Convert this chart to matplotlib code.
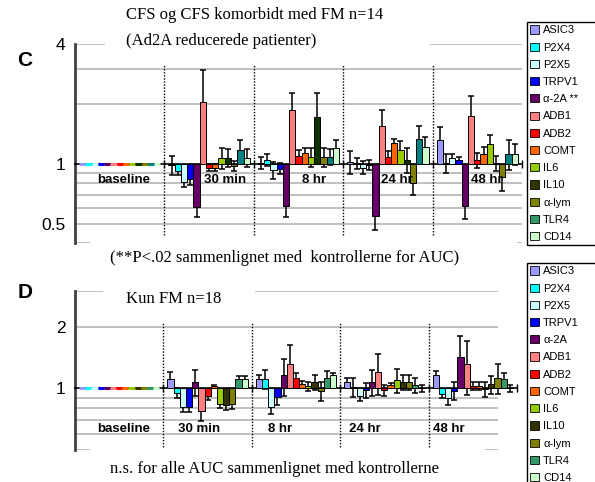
import matplotlib
matplotlib.use("Agg")
import matplotlib.pyplot as plt
from matplotlib.patches import Patch, Rectangle
from matplotlib.ticker import NullLocator
import numpy as np

# ---------------- data ----------------
series = ["ASIC3", "P2X4", "P2X5", "TRPV1", "α-2A", "ADB1", "ADB2", "COMT",
          "IL6", "IL10", "α-lym", "TLR4", "CD14"]
labels_c = ["ASIC3", "P2X4", "P2X5", "TRPV1", "α-2A **", "ADB1", "ADB2", "COMT",
            "IL6", "IL10", "α-lym", "TLR4", "CD14"]
labels_d = series
groups = ["baseline", "30 min", "8 hr", "24 hr", "48 hr"]

colors_c = ["#9999FF", "#00FFFF", "#CCFFFF", "#0000FF", "#660066", "#FF8080", "#FF0000",
            "#FF6600", "#99CC00", "#0F3300", "#808000", "#008080", "#CCFFCC"]
colors_d = ["#9999FF", "#00FFFF", "#CCFFFF", "#0000FF", "#660066", "#FF8080", "#FF0000",
            "#FF6600", "#99CC00", "#333300", "#808000", "#339966", "#CCFFCC"]

# Panel C (CFS og CFS komorbidt med FM, n=14)
c_baseline = [1, 1, 1, 1, 1, 1, 1, 1, 1, 1, 1, 1, 1]
c_30min = [0.987, 0.915, 0.812, 0.838, 0.604, 2.055, 0.958, 0.958, 1.072, 1.072, 0.977, 1.18, 1.072]
c_8hr = [1.012, 1.047, 0.93, 0.947, 0.613, 1.873, 1.097, 1.135, 1.084, 1.72, 1.084, 1.084, 1.194]
c_24hr = [1.023, 1.006, 0.958, 0.99, 0.546, 1.551, 1.088, 1.275, 1.18, 1.047, 0.797, 1.34, 1.217]
c_48hr = [1.31, 1.008, 1.072, 1.047, 0.613, 1.74, 1.047, 1.122, 1.26, 1.01, 0.854, 1.122, 1.122]

c_err_baseline = [0, 0, 0, 0, 0, 0, 0, 0, 0, 0, 0, 0, 0]
c_err_30min = [0.11, 0.038, 0.05, 0.056, 0.066, 0.9, 0.035, 0.035, 0.126, 0.11, 0.055, 0.13, 0.11]
c_err_8hr = [0.072, 0.075, 0.09, 0.06, 0.075, 0.4, 0.08, 0.065, 0.115, 0.55, 0.115, 0.1, 0.12]
c_err_24hr = [0.135, 0.066, 0.07, 0.057, 0.083, 0.31, 0.07, 0.065, 0.12, 0.15, 0.1, 0.2, 0.15]
c_err_48hr = [0.22, 0.11, 0.05, 0.04, 0.086, 0.45, 0.09, 0.09, 0.13, 0.09, 0.12, 0.19, 0.14]

# Panel D (Kun FM, n=18)
d_baseline = [1, 1, 1, 1, 1, 1, 1, 1, 1, 1, 1, 1, 1]
d_30min = [1.108, 0.95, 0.808, 0.808, 1.072, 0.776, 0.922, 1.022, 0.835, 0.826, 0.841, 1.108, 1.108]
d_8hr = [1.108, 1.108, 0.808, 0.906, 1.158, 1.321, 1.129, 1.045, 1.026, 1.072, 0.972, 1.129, 1.158]
d_24hr = [1.072, 1.019, 0.922, 0.978, 1.072, 1.197, 0.98, 1.041, 1.1, 1.072, 1.072, 1.041, 1.0]
d_48hr = [1.158, 0.936, 0.896, 0.975, 1.427, 1.321, 1.026, 1.026, 0.99, 1.045, 1.129, 1.108, 1.0]

d_err_baseline = [0, 0, 0, 0, 0, 0, 0, 0, 0, 0, 0, 0, 0]
d_err_30min = [0.09, 0.057, 0.04, 0.04, 0.156, 0.086, 0.04, 0.02, 0.03, 0.045, 0.05, 0.046, 0.046]
d_err_8hr = [0.05, 0.12, 0.06, 0.08, 0.24, 0.31, 0.063, 0.04, 0.05, 0.086, 0.1, 0.09, 0.03]
d_err_24hr = [0.057, 0.11, 0.05, 0.08, 0.156, 0.27, 0.06, 0.02, 0.15, 0.086, 0.086, 0.088, 0.035]
d_err_48hr = [0.06, 0.04, 0.066, 0.1, 0.38, 0.39, 0.046, 0.046, 0.08, 0.11, 0.19, 0.08, 0.04]

c_ticks = [0.5, 1, 4]
c_ticklabels = ["0.5", "1", "4"]
c_grid = [0.4, 0.5, 0.6, 0.7, 0.8, 0.9, 2, 3, 4]
d_ticks = [1, 2]
d_ticklabels = ["1", "2"]
d_grid = [0.5, 0.6, 0.7, 0.8, 0.9, 2, 3]

# ---------------- style ----------------
SANS = ["Liberation Sans", "DejaVu Sans"]
SERIF = ["Liberation Serif", "DejaVu Serif"]
plt.rcParams["font.family"] = SANS

W, H = 595, 482
fig = plt.figure(figsize=(W / 100, H / 100), dpi=100)


def fx(px):
    return px / W


def fy(py):
    return 1 - py / H


def cover(ax, x0, x1, y0, y1):
    ax.add_patch(Rectangle((x0, y0), x1 - x0, y1 - y0, transform=ax.transAxes,
                           facecolor="white", edgecolor="none", zorder=1.5, clip_on=False))


def draw_panel(ax, vals, errs, colors, ylim, ticks, ticklabels, grid, label_y, label_shift,
               vline_span):
    ax.set_yscale("log")
    ax.set_ylim(*ylim)
    ax.set_xlim(-0.5, len(groups) - 0.5)
    n = len(series)
    width = 0.07
    x = np.arange(len(groups))
    for i in range(n):
        v = np.array([g[i] for g in vals], dtype=float)
        e = np.array([g[i] for g in errs], dtype=float)
        xs = x + (i - (n - 1) / 2) * width
        flat = (v == 1) & (e == 0)
        edge = [colors[i] if f else "black" for f in flat]
        lw = [2.2 if f else 0.7 for f in flat]
        ax.bar(xs, v - 1, bottom=1, width=width, color=colors[i], edgecolor=edge,
               linewidth=lw, zorder=3)
        m = e > 0
        ax.errorbar(xs[m], v[m], yerr=e[m], fmt="none", ecolor="black", elinewidth=1.1,
                    capsize=2.4, capthick=1.1, zorder=2.6)
    for g in grid:
        ax.axhline(g, color="#C0C0C0", lw=1.4, zorder=0.5)
    for b in np.arange(len(groups) - 1) + 0.5:
        ax.axvline(b, ymin=vline_span[0], ymax=vline_span[1], color="black", lw=1.0,
                   ls=(0, (1, 1.2)), zorder=1.6)
    ax.set_yticks(ticks)
    ax.set_yticklabels(ticklabels, fontsize=12.5)
    ax.yaxis.set_minor_locator(NullLocator())
    ax.tick_params(axis="y", length=0, pad=7)
    ax.set_xticks(np.arange(len(groups)) + 0.5)
    ax.set_xticklabels([])
    ax.tick_params(axis="x", direction="inout", length=6, width=1.0, color="black")
    ax.spines["bottom"].set_position(("data", 1))
    ax.spines["bottom"].set_linewidth(1.2)
    ax.spines["bottom"].set_zorder(2.5)
    ax.spines["top"].set_visible(False)
    ax.spines["right"].set_visible(False)
    ax.spines["left"].set_color("#404040")
    ax.spines["left"].set_linewidth(2.0)
    for k, name in enumerate(groups):
        ax.text(k + label_shift[k], label_y, name, ha="center", va="center", fontsize=9.5,
                fontweight="bold", zorder=4)
    ax.set_facecolor("none")


# ---------------- panel C ----------------
axc = fig.add_axes([fx(75), fy(243), fx(522 - 75), (243 - 44) / H])
draw_panel(axc,
           [c_baseline, c_30min, c_8hr, c_24hr, c_48hr],
           [c_err_baseline, c_err_30min, c_err_8hr, c_err_24hr, c_err_48hr],
           colors_c, (0.4, 4), c_ticks, c_ticklabels, c_grid, 0.83,
           [0.05, 0.18, 0.17, 0.10, 0.11], (0.04, 0.895))
cover(axc, 0.067, 0.794, 0.985, 1.08)
cover(axc, 0.034, 0.989, -0.08, 0.012)

# ---------------- panel D ----------------
axd = fig.add_axes([fx(75), fy(450), fx(517 - 75), (450 - 290.7) / H])
draw_panel(axd,
           [d_baseline, d_30min, d_8hr, d_24hr, d_48hr],
           [d_err_baseline, d_err_30min, d_err_8hr, d_err_24hr, d_err_48hr],
           colors_d, (0.5, 3), d_ticks, d_ticklabels, d_grid, 0.635,
           [0.05, -0.10, -0.18, -0.22, -0.27], (0.02, 0.805))
cover(axd, 0.063, 0.407, 0.985, 1.08)
cover(axd, 0.034, 0.928, -0.08, 0.012)
cover(axd, 0.957, 1.03, -0.02, 1.02)

# ---------------- texts ----------------
fig.text(fx(25), fy(61), "C", fontsize=15, fontweight="bold", ha="center", va="center")
fig.text(fx(25), fy(293), "D", fontsize=15, fontweight="bold", ha="center", va="center")
fig.text(fx(126), fy(15), "CFS og CFS komorbidt med FM n=14", family=SERIF, fontsize=12,
         ha="left", va="center")
fig.text(fx(126), fy(41), "(Ad2A reducerede patienter)", family=SERIF, fontsize=12,
         ha="left", va="center")
fig.text(fx(110), fy(258), "(**P<.02 sammenlignet med  kontrollerne for AUC)", family=SERIF,
         fontsize=12, ha="left", va="center")
fig.text(fx(126), fy(299), "Kun FM n=18", family=SERIF, fontsize=12, ha="left", va="center")
fig.text(fx(110), fy(469), "n.s. for alle AUC sammenlignet med kontrollerne", family=SERIF,
         fontsize=12, ha="left", va="center")

# ---------------- legends ----------------
for labels, top in ((labels_c, 22), (labels_d, 263)):
    handles = [Patch(facecolor=c, edgecolor="black", linewidth=0.6) for c in colors_d]
    leg = fig.legend(handles, labels, loc="upper left",
                     bbox_to_anchor=(fx(527), fy(top), fx(90), 0.0), mode="expand",
                     frameon=True, fancybox=False, edgecolor="black", framealpha=1,
                     fontsize=8, handlelength=0.75, handleheight=0.75, handletextpad=0.4,
                     labelspacing=0.65, borderpad=0.3, borderaxespad=0)
    leg.get_frame().set_linewidth(1.0)

fig.savefig("out.png", dpi=100)
